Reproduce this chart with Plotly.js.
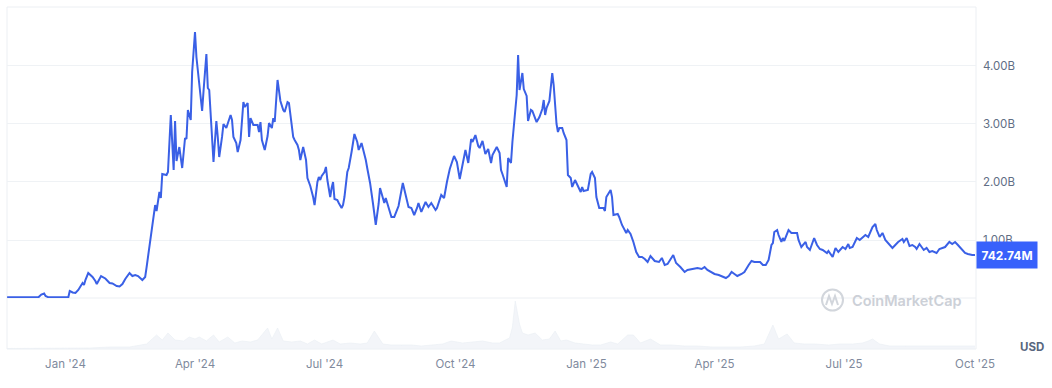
<!DOCTYPE html>
<html>
<head>
<meta charset="utf-8">
<script src="https://cdn.plot.ly/plotly-3.0.1.min.js"></script>
<style>html,body{margin:0;padding:0;background:#fff;}#chart{width:1052px;height:388px;}</style>
</head>
<body>
<div id="chart"></div>
<script>
// Market cap (billions USD)
const dates = [
'2023-11-21','2023-12-13','2023-12-15','2023-12-17','2023-12-18','2023-12-20','2024-01-03','2024-01-04','2024-01-06','2024-01-08',
'2024-01-10','2024-01-13','2024-01-14','2024-01-15','2024-01-17','2024-01-20','2024-01-22','2024-01-23','2024-01-26','2024-01-29',
'2024-02-01','2024-02-03','2024-02-06','2024-02-08','2024-02-10','2024-02-12','2024-02-15','2024-02-17','2024-02-19','2024-02-21',
'2024-02-24','2024-02-26','2024-02-27','2024-02-29','2024-03-02','2024-03-04','2024-03-05','2024-03-07','2024-03-08','2024-03-09',
'2024-03-12','2024-03-13','2024-03-15','2024-03-17','2024-03-18','2024-03-19','2024-03-21','2024-03-23','2024-03-25','2024-03-26',
'2024-03-27','2024-03-29','2024-03-30','2024-04-01','2024-04-02','2024-04-04','2024-04-06','2024-04-07','2024-04-09','2024-04-10',
'2024-04-11','2024-04-14','2024-04-16','2024-04-17','2024-04-18','2024-04-20','2024-04-21','2024-04-23','2024-04-26','2024-04-27',
'2024-04-28','2024-04-30','2024-05-01','2024-05-03','2024-05-05','2024-05-06','2024-05-08','2024-05-09','2024-05-10','2024-05-12',
'2024-05-15','2024-05-16','2024-05-17','2024-05-18','2024-05-20','2024-05-22','2024-05-23','2024-05-25','2024-05-26','2024-05-27',
'2024-05-29','2024-05-31','2024-06-02','2024-06-03','2024-06-05','2024-06-06','2024-06-08','2024-06-09','2024-06-10','2024-06-12',
'2024-06-13','2024-06-14','2024-06-16','2024-06-18','2024-06-19','2024-06-21','2024-06-23','2024-06-24','2024-06-26','2024-06-27',
'2024-06-28','2024-06-29','2024-07-01','2024-07-02','2024-07-03','2024-07-05','2024-07-06','2024-07-07','2024-07-08','2024-07-10',
'2024-07-11','2024-07-13','2024-07-14','2024-07-15','2024-07-17','2024-07-18','2024-07-20','2024-07-21','2024-07-22','2024-07-24',
'2024-07-25','2024-07-27','2024-07-29','2024-07-30','2024-07-31','2024-08-02','2024-08-04','2024-08-05','2024-08-06','2024-08-08',
'2024-08-09','2024-08-10','2024-08-12','2024-08-13','2024-08-15','2024-08-17','2024-08-19','2024-08-22','2024-08-25','2024-08-27',
'2024-08-29','2024-08-31','2024-09-02','2024-09-04','2024-09-05','2024-09-07','2024-09-10','2024-09-12','2024-09-14','2024-09-17',
'2024-09-18','2024-09-21','2024-09-23','2024-09-25','2024-09-27','2024-09-30','2024-10-02','2024-10-04','2024-10-06','2024-10-08',
'2024-10-10','2024-10-12','2024-10-13','2024-10-15','2024-10-17','2024-10-18','2024-10-20','2024-10-22','2024-10-24','2024-10-26',
'2024-10-27','2024-10-30','2024-11-01','2024-11-02','2024-11-03','2024-11-06','2024-11-07','2024-11-09','2024-11-10','2024-11-12',
'2024-11-13','2024-11-14','2024-11-15','2024-11-17','2024-11-18','2024-11-20','2024-11-21','2024-11-23','2024-11-24','2024-11-27',
'2024-11-29','2024-12-01','2024-12-02','2024-12-03','2024-12-04','2024-12-06','2024-12-08','2024-12-09','2024-12-11','2024-12-12',
'2024-12-13','2024-12-15','2024-12-16','2024-12-18','2024-12-19','2024-12-21','2024-12-22','2024-12-24','2024-12-26','2024-12-28',
'2024-12-29','2024-12-30','2025-01-02','2025-01-04','2025-01-05','2025-01-07','2025-01-08','2025-01-10','2025-01-13','2025-01-14',
'2025-01-15','2025-01-18','2025-01-19','2025-01-20','2025-01-23','2025-01-24','2025-01-26','2025-01-27','2025-01-29','2025-01-30',
'2025-02-01','2025-02-03','2025-02-04','2025-02-05','2025-02-07','2025-02-09','2025-02-11','2025-02-13','2025-02-15','2025-02-18',
'2025-02-21','2025-02-23','2025-02-25','2025-02-27','2025-03-03','2025-03-05','2025-03-08','2025-03-11','2025-03-13','2025-03-16',
'2025-03-18','2025-03-20','2025-03-23','2025-03-25','2025-03-27','2025-03-30','2025-04-01','2025-04-04','2025-04-07','2025-04-09',
'2025-04-11','2025-04-13','2025-04-15','2025-04-17','2025-04-20','2025-04-22','2025-04-25','2025-04-27','2025-04-29','2025-05-01',
'2025-05-03','2025-05-05','2025-05-07','2025-05-09','2025-05-11','2025-05-12','2025-05-13','2025-05-15','2025-05-16','2025-05-18',
'2025-05-19','2025-05-20','2025-05-23','2025-05-25','2025-05-29','2025-05-30','2025-06-01','2025-06-04','2025-06-05','2025-06-07',
'2025-06-10','2025-06-12','2025-06-14','2025-06-16','2025-06-19','2025-06-20','2025-06-23','2025-06-25','2025-06-27','2025-06-30',
'2025-07-02','2025-07-04','2025-07-05','2025-07-07','2025-07-10','2025-07-12','2025-07-14','2025-07-16','2025-07-18','2025-07-21',
'2025-07-23','2025-07-24','2025-07-26','2025-07-28','2025-07-30','2025-08-01','2025-08-04','2025-08-06','2025-08-08','2025-08-11',
'2025-08-12','2025-08-14','2025-08-16','2025-08-18','2025-08-20','2025-08-21','2025-08-23','2025-08-26','2025-08-28','2025-08-30',
'2025-09-01','2025-09-04','2025-09-06','2025-09-10','2025-09-13','2025-09-15','2025-09-17','2025-09-19','2025-09-22','2025-09-24',
'2025-09-26','2025-09-29','2025-10-01'
];
const marketCapB = [
0.012,0.012,0.06,0.078,0.034,0.012,0.012,0.121,0.095,0.086,
0.138,0.259,0.224,0.310,0.431,0.362,0.293,0.241,0.379,0.336,
0.259,0.25,0.207,0.198,0.241,0.328,0.431,0.379,0.397,0.379,
0.310,0.362,0.534,0.862,1.276,1.603,1.5,1.828,1.724,2.138,
2.121,2.172,3.155,2.207,3.052,2.362,2.603,2.241,2.759,2.741,
3.241,3.069,3.897,4.586,4.155,3.621,3.224,3.569,4.207,3.621,
3.586,2.345,3.052,2.776,2.431,2.776,3.0,2.931,3.155,3.069,
2.776,2.672,2.517,2.724,3.379,3.293,3.362,2.776,3.103,2.983,
2.983,2.862,3.034,2.724,2.552,2.793,3.017,2.931,3.103,3.034,
3.759,3.397,3.241,3.207,3.379,3.362,3.017,2.776,2.724,2.638,
2.552,2.379,2.603,2.379,2.069,1.931,1.741,1.603,2.0,2.086,
2.034,2.103,2.172,2.259,2.034,1.741,1.897,2.0,1.707,1.690,
1.638,1.552,1.603,1.741,2.172,2.241,2.517,2.724,2.828,2.690,
2.552,2.672,2.5,2.379,2.241,1.983,1.638,1.466,1.259,1.621,
1.897,1.81,1.638,1.724,1.552,1.397,1.397,1.586,1.983,1.776,
1.569,1.552,1.431,1.552,1.638,1.483,1.655,1.569,1.638,1.517,
1.552,1.776,1.724,2.0,2.224,2.448,2.345,2.052,2.293,2.552,
2.328,2.741,2.69,2.81,2.621,2.586,2.707,2.483,2.569,2.328,
2.466,2.603,2.5,2.207,2.138,1.914,2.414,2.328,2.69,3.19,
3.5,4.19,3.586,3.879,3.603,3.483,3.052,3.241,3.224,3.034,
3.121,3.259,3.414,3.155,3.276,3.397,3.879,3.672,3.0,2.862,
2.931,2.931,2.845,2.724,2.121,2.069,1.914,2.034,1.914,1.828,
1.914,1.845,1.862,2.138,2.172,2.069,1.741,1.552,1.552,1.5,
1.741,1.862,1.741,1.431,1.448,1.397,1.259,1.207,1.121,1.172,
1.103,0.966,0.862,0.793,0.707,0.707,0.672,0.621,0.724,0.638,
0.621,0.69,0.569,0.586,0.741,0.603,0.534,0.448,0.483,0.5,
0.5,0.517,0.5,0.534,0.483,0.448,0.414,0.397,0.362,0.345,
0.379,0.448,0.414,0.379,0.414,0.448,0.569,0.638,0.621,0.621,
0.621,0.569,0.569,0.655,0.914,0.948,1.138,1.172,1.086,0.966,
1.034,0.983,1.172,1.121,1.121,1.0,0.879,0.966,0.879,0.828,
1.034,0.914,0.845,0.828,0.776,0.81,0.707,0.862,0.793,0.879,
0.845,0.931,0.862,0.879,1.034,1.0,1.052,1.086,1.052,1.224,
1.276,1.172,1.052,1.121,1.0,0.948,0.862,0.914,0.966,1.017,
0.966,1.034,0.897,0.914,0.879,0.845,0.931,0.828,0.862,0.793,
0.81,0.776,0.845,0.879,0.966,0.931,0.966,0.914,0.828,0.776,
0.759,0.741,0.74274
];

// Trading volume (relative, billions USD est.) for the faint bottom panel
const volDates = [
'2023-11-21','2024-01-04','2024-01-18','2024-02-01','2024-02-15','2024-02-27','2024-03-02','2024-03-05','2024-03-09','2024-03-13',
'2024-03-18','2024-03-24','2024-03-28','2024-04-01','2024-04-04','2024-04-09','2024-04-14','2024-04-18','2024-04-24','2024-04-29',
'2024-05-04','2024-05-10','2024-05-15','2024-05-22','2024-05-25','2024-05-29','2024-06-02','2024-06-08','2024-06-14','2024-06-19',
'2024-06-24','2024-06-29','2024-07-07','2024-07-12','2024-07-19','2024-07-26','2024-07-31','2024-08-05','2024-08-11','2024-08-17',
'2024-08-24','2024-08-31','2024-09-07','2024-09-15','2024-09-22','2024-09-28','2024-10-06','2024-10-13','2024-10-20','2024-10-27',
'2024-11-01','2024-11-05','2024-11-08','2024-11-10','2024-11-12','2024-11-15','2024-11-17','2024-11-21','2024-11-26','2024-12-01',
'2024-12-06','2024-12-10','2024-12-14','2024-12-18','2024-12-24','2024-12-30','2025-01-05','2025-01-11','2025-01-18','2025-01-23',
'2025-01-30','2025-02-03','2025-02-08','2025-02-15','2025-02-22','2025-03-02','2025-03-11','2025-03-20','2025-03-30','2025-04-08',
'2025-04-19','2025-04-29','2025-05-06','2025-05-12','2025-05-16','2025-05-22','2025-05-27','2025-06-03','2025-06-11','2025-06-20',
'2025-06-28','2025-07-07','2025-07-14','2025-07-18','2025-07-21','2025-07-26','2025-08-02','2025-08-13','2025-08-23','2025-09-03',
'2025-09-13','2025-09-24','2025-10-01'
];
const volumeB = [
0.05,0.1,0.1,0.2,0.2,0.5,1.0,1.4,0.9,1.6,
0.9,0.8,1.2,1.0,1.2,0.8,1.4,0.7,1.2,0.6,
0.8,0.7,0.9,2.1,1.0,2.1,0.8,0.7,0.8,0.5,
0.9,0.5,0.9,0.5,0.6,0.5,0.6,1.8,0.5,0.4,
0.4,0.4,0.3,0.4,0.5,0.8,0.6,0.7,0.8,0.6,
0.6,0.9,1.1,2.2,4.8,2.5,1.6,1.4,1.6,0.9,
1.0,1.8,0.8,0.9,0.6,0.5,0.4,0.4,0.7,0.5,
1.4,1.4,0.6,1.0,0.4,0.4,0.3,0.3,0.2,0.2,
0.2,0.3,0.5,2.4,1.0,1.5,0.6,0.5,0.5,0.4,
0.5,0.5,0.6,0.8,1.0,0.5,0.3,0.3,0.3,0.3,
0.3,0.3,0.3
];

const yTickVals = [1, 2, 3, 4];
const yTickText = ['1.00B', '2.00B', '3.00B', '4.00B'];
const xTickVals = ['2024-01-01','2024-04-01','2024-07-01','2024-10-01','2025-01-01','2025-04-01','2025-07-01','2025-10-01'];
const xTickText = ["Jan '24","Apr '24","Jul '24","Oct '24","Jan '25","Apr '25","Jul '25","Oct '25"];

const lastVal = marketCapB[marketCapB.length - 1];
const lastLabel = (lastVal * 1000).toFixed(2) + 'M';

const FONT = 'Inter, "Open Sans", Roboto, sans-serif';
const LINE = '#3a60e6';
const BOX = '#3861fb';
const GRID = '#eff2f5';

// px helpers for paper coords (plot area x:7..976, y:7..349)
const px = x => (x - 7) / 969;
const py = y => (349 - y) / 342;

const traces = [
  {
    x: volDates, y: volumeB, type: 'scatter', mode: 'lines',
    line: {color: '#eaeef3', width: 0.6, shape: 'linear'},
    fill: 'tozeroy', fillcolor: 'rgba(238,241,246,0.7)',
    xaxis: 'x', yaxis: 'y2', hoverinfo: 'skip', showlegend: false
  },
  {
    x: dates, y: marketCapB, type: 'scatter', mode: 'lines',
    line: {color: LINE, width: 2, shape: 'linear'},
    xaxis: 'x', yaxis: 'y', hoverinfo: 'skip', showlegend: false
  }
];

const logoPath = 'M ' + px(826) + ' ' + py(305) + ' L ' + px(829) + ' ' + py(296) +
  ' L ' + px(832) + ' ' + py(304) + ' L ' + px(835) + ' ' + py(296) + ' L ' + px(838) + ' ' + py(305);

const layout = {
  width: 1052, height: 388,
  margin: {l: 7, r: 76, t: 7, b: 39, pad: 0},
  paper_bgcolor: '#ffffff', plot_bgcolor: '#ffffff',
  font: {family: FONT, size: 11.5, color: '#58667e'},
  showlegend: false,
  xaxis: {
    type: 'date', range: ['2023-11-20 22:00', '2025-10-01 17:00'],
    anchor: 'y2', tickvals: xTickVals, ticktext: xTickText,
    showgrid: false, zeroline: false, showline: false, ticks: '',
    tickfont: {family: FONT, size: 11.5, color: '#808a9d'},
    ticklabelstandoff: 6, fixedrange: true
  },
  yaxis: {
    domain: [py(298), 1], range: [0, 5.017], side: 'right', anchor: 'x',
    tickvals: yTickVals, ticktext: yTickText,
    showgrid: true, gridcolor: GRID, gridwidth: 1, zeroline: false, showline: false, ticks: '',
    tickfont: {family: FONT, size: 11.5, color: '#616e85'},
    ticklabelstandoff: 6, fixedrange: true
  },
  yaxis2: {
    domain: [0, py(298)], range: [0, 5.1], anchor: 'x',
    showgrid: false, zeroline: false, showline: false, showticklabels: false, ticks: '', fixedrange: true
  },
  shapes: [
    {type: 'rect', xref: 'paper', yref: 'paper', x0: 0, x1: 1, y0: 0, y1: 1, line: {color: '#eceff3', width: 1}, layer: 'below'},
    {type: 'line', xref: 'paper', yref: 'paper', x0: 0, x1: 1, y0: py(298), y1: py(298), line: {color: '#eceff3', width: 1}, layer: 'below'},
    {type: 'circle', xref: 'paper', yref: 'paper', x0: px(822), x1: px(843), y0: py(310.5), y1: py(289.5), line: {color: '#d2d6dc', width: 2}, layer: 'above'},
    {type: 'path', xref: 'paper', yref: 'paper', path: logoPath, line: {color: '#d2d6dc', width: 2}, layer: 'above'}
  ],
  annotations: [
    {xref: 'paper', yref: 'paper', x: px(850), y: py(300), xanchor: 'left', yanchor: 'middle',
     text: 'CoinMarketCap', showarrow: false, font: {family: FONT, size: 14.5, color: '#ccd0d7', weight: 600}},
    {xref: 'paper', yref: 'y', x: 1, y: lastVal, xanchor: 'left', yanchor: 'middle',
     text: '<b>' + lastLabel + '</b>', showarrow: false, bgcolor: BOX, width: 56, height: 22, borderpad: 2,
     font: {family: FONT, size: 12, color: '#ffffff'}},
    {xref: 'paper', yref: 'paper', x: px(1031.5), y: py(347), xanchor: 'center', yanchor: 'middle',
     text: '<b>USD</b>', showarrow: false, font: {family: FONT, size: 11.5, color: '#58667e'}}
  ]
};

Plotly.newPlot('chart', traces, layout, {displayModeBar: false, staticPlot: true});
</script>
</body>
</html>
